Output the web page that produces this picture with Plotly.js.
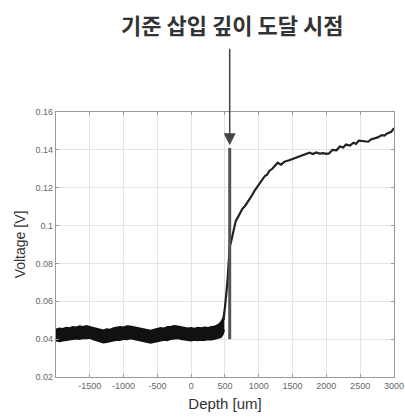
<!DOCTYPE html>
<html>
<head>
<meta charset="utf-8">
<script src="https://cdn.plot.ly/plotly-3.0.1.min.js"></script>
<style>html,body{margin:0;padding:0;background:#fff;}#chart{width:405px;height:417px;}</style>
</head>
<body>
<div id="chart"></div>
<script>
// Noisy baseline band (upper / lower envelope)
const bandDepth = [-2000,-1950,-1900,-1850,-1800,-1750,-1700,-1650,-1600,-1550,-1500,-1450,-1400,-1350,-1300,-1250,-1200,-1150,-1100,-1050,-1000,-950,-900,-850,-800,-750,-700,-650,-600,-550,-500,-450,-400,-350,-300,-250,-200,-150,-100,-50,0,50,100,150,200,250,300,350,400,440,470,490];
const bandUpper = [0.0452,0.0458,0.0455,0.0462,0.0459,0.0466,0.0463,0.0469,0.0465,0.0470,0.0466,0.0461,0.0458,0.0450,0.0447,0.0453,0.0451,0.0459,0.0462,0.0466,0.0463,0.0469,0.0468,0.0464,0.0461,0.0455,0.0452,0.0449,0.0446,0.0451,0.0454,0.0460,0.0458,0.0465,0.0467,0.0471,0.0468,0.0463,0.0460,0.0457,0.0460,0.0456,0.0461,0.0459,0.0463,0.0460,0.0466,0.0468,0.0476,0.0490,0.0510,0.0545];
const bandLower = [0.0392,0.0388,0.0391,0.0394,0.0396,0.0399,0.0402,0.0400,0.0405,0.0403,0.0406,0.0398,0.0393,0.0386,0.0381,0.0384,0.0388,0.0392,0.0396,0.0394,0.0400,0.0398,0.0403,0.0399,0.0396,0.0390,0.0386,0.0383,0.0380,0.0384,0.0388,0.0391,0.0395,0.0393,0.0400,0.0402,0.0404,0.0399,0.0397,0.0393,0.0391,0.0395,0.0393,0.0396,0.0394,0.0398,0.0397,0.0401,0.0404,0.0410,0.0425,0.0450];

// Voltage curve after insertion
const curveDepth = [480,500,520,540,555,570,585,600,630,660,700,730,760,800,830,870,900,940,970,1010,1050,1090,1120,1160,1200,1240,1280,1330,1380,1450,1500,1550,1600,1650,1700,1750,1800,1850,1900,1950,2000,2040,2090,2150,2200,2250,2290,2350,2400,2440,2480,2550,2620,2660,2700,2760,2820,2860,2900,2960,3000];
const curveVolt  = [0.050,0.056,0.064,0.072,0.082,0.089,0.0905,0.093,0.099,0.1025,0.105,0.1075,0.109,0.1105,0.112,0.1145,0.116,0.1185,0.120,0.1225,0.124,0.1262,0.1268,0.1290,0.1300,0.1318,0.1332,0.1322,0.1337,0.1345,0.1352,0.1355,0.1365,0.1370,0.1378,0.1385,0.1378,0.1386,0.1380,0.1383,0.1379,0.1381,0.1400,0.1398,0.1418,0.1413,0.1428,0.1423,0.1438,0.1432,0.1449,0.1446,0.1443,0.1455,0.1460,0.1466,0.1478,0.1475,0.1487,0.1495,0.1514];

// Reference insertion-depth marker
const markerDepth = [570, 570];
const markerVolt = [0.040, 0.141];
const arrowTip = {depth: 570, volt: 0.1425};

const xTicks = [-1500,-1000,-500,0,500,1000,1500,2000,2500,3000];
const yTicks = [0.02,0.04,0.06,0.08,0.1,0.12,0.14,0.16];

const titleText = '기준 삽입 깊이 도달 시점';
const xTitle = 'Depth [um]';
const yTitle = 'Voltage [V]';

const traces = [
  {x: bandDepth, y: bandUpper, mode: 'lines', line: {color: '#111', width: 1.5}, hoverinfo: 'skip'},
  {x: bandDepth, y: bandLower, mode: 'lines', line: {color: '#111', width: 1.5}, fill: 'tonexty', fillcolor: '#111', hoverinfo: 'skip'},
  {x: curveDepth, y: curveVolt, mode: 'lines', line: {color: '#222', width: 2.2}},
  {x: markerDepth, y: markerVolt, mode: 'lines', line: {color: '#555', width: 3}}
];

const axisCommon = {
  showline: true, mirror: 'ticks', linecolor: '#999', linewidth: 1.2,
  ticks: 'inside', ticklen: 3, tickcolor: '#999',
  showgrid: true, gridcolor: '#e4e4e4', gridwidth: 1,
  zeroline: false, ticklabeloverflow: 'allow',
  tickfont: {family: 'Liberation Sans, Arial, sans-serif', size: 9, color: '#666'}
};

const layout = {
  width: 405, height: 417,
  margin: {l: 56, r: 11, t: 112, b: 40},
  paper_bgcolor: '#fff', plot_bgcolor: '#fff',
  showlegend: false,
  xaxis: Object.assign({}, axisCommon, {
    range: [-2000, 3001], tickvals: xTicks, ticktext: xTicks.map(String),
    title: {text: xTitle, font: {family: 'Liberation Sans, Arial, sans-serif', size: 15, color: '#333'}, standoff: 8}
  }),
  yaxis: Object.assign({}, axisCommon, {
    range: [0.02, 0.16], tickvals: yTicks, ticktext: yTicks.map(String),
    title: {text: yTitle, font: {family: 'Liberation Sans, Arial, sans-serif', size: 14, color: '#333'}, standoff: 6}
  }),
  annotations: [
    {x: arrowTip.depth, y: arrowTip.volt, xref: 'x', yref: 'y', text: '', showarrow: true,
     ax: 0, ay: -98, arrowhead: 2, arrowsize: 1.6, arrowwidth: 1.5, arrowcolor: '#444'},
    {x: (232 - 56) / 338, y: (377 - 24) / 265, xref: 'paper', yref: 'paper', text: '<b>' + titleText + '</b>',
     showarrow: false, xanchor: 'center', yanchor: 'middle',
     font: {family: 'Noto Sans CJK KR', size: 22, color: '#333'}}
  ]
};

Plotly.newPlot('chart', traces, layout, {displayModeBar: false, staticPlot: true});
</script>
</body>
</html>
